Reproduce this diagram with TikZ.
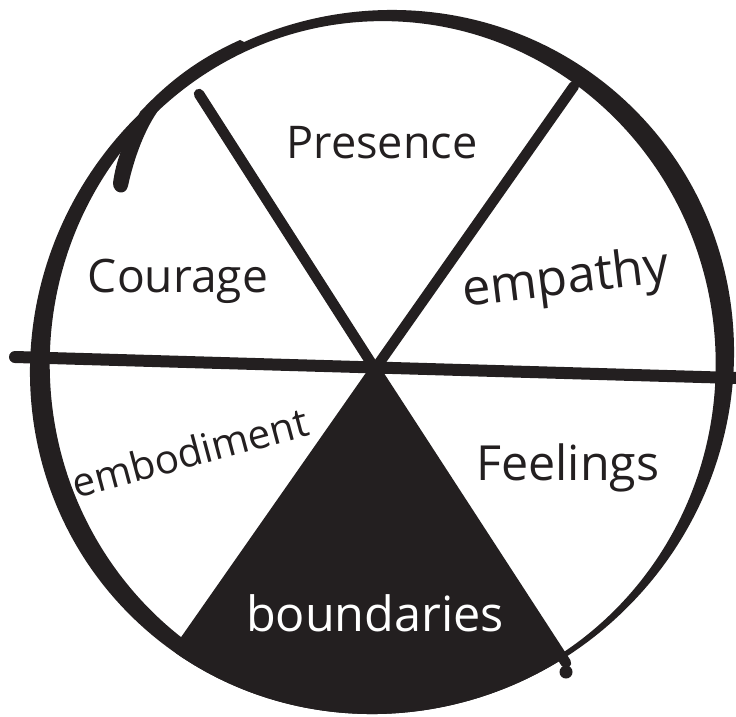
\documentclass[tikz,border=0pt]{standalone}
\usepackage{fontspec}
\setmainfont{Open Sans}
\usepackage{graphicx}
\usetikzlibrary{calc}
\definecolor{ink}{HTML}{231F20}
\newcommand{\wlab}[2]{\resizebox{#1pt}{!}{#2}}
\begin{document}
\begin{tikzpicture}[x=1pt,y=-1pt,
  spoke/.style={line width=10.5pt, line cap=round, draw=ink},
  lab/.style={inner sep=0pt, text=ink}]
\useasboundingbox (0,0) rectangle (736,717);
% centre and spoke ends
\coordinate (C) at (375,369);
\coordinate (TL) at (199,94);
\coordinate (TR) at (574,86);
\coordinate (BL) at (182,645);
\coordinate (BR) at (566,663);
\coordinate (HL) at (15,357);
\coordinate (HR) at (736,378);
% black sector, clipped by the outer rim
\begin{scope}
  \clip[rotate around={45:(382,362)}] (382,362) ellipse [x radius=357, y radius=347];
  \fill[ink] (C) -- ($(C)!1.4!(BL)$) -- ($(C)!1.4!(BR)$) -- cycle;
\end{scope}
% ring
\fill[ink, even odd rule]
  [rotate around={45:(382,362)}] (382,362) ellipse [x radius=357, y radius=347]
  [rotate around={45:(381,364)}] (381,364) ellipse [x radius=343, y radius=333];
% pen start stroke at top-left
\fill[ink] (113,183) .. controls (116,160) and (125,138) .. (136,120)
  -- (140,112) .. controls (170,80) and (200,58) .. (240,40) -- (248,44)
  .. controls (215,60) and (185,82) .. (160,108)
  .. controls (145,128) and (134,158) .. (128,186)
  .. controls (126,196) and (113,194) .. (113,183) -- cycle;
% small blob at bottom right
\fill[ink] (566,672) circle (6.5);
% spokes
\draw[spoke] (TL) -- (C);
\draw[spoke] (TR) -- (C);
\draw[spoke] (C) -- (BL);
\draw[spoke] (C) -- (BR);
\draw[ink, line width=12pt, line cap=round] (HL) -- (HR);
% labels
\node[lab] (presence) at (382,143) {\wlab{191}{Presence}};
\node[lab] (courage) at (178,281) {\wlab{180}{Courage}};
\node[lab, rotate=7] (empathy) at (566,281) {\wlab{208}{empathy}};
\node[lab, rotate=15] (embodiment) at (190,452) {\wlab{243}{embodiment}};
\node[lab] (feelings) at (568,468) {\wlab{183}{Feelings}};
\node[lab, text=white] (boundaries) at (375,613) {\wlab{258}{boundaries}};
\end{tikzpicture}
\end{document}
